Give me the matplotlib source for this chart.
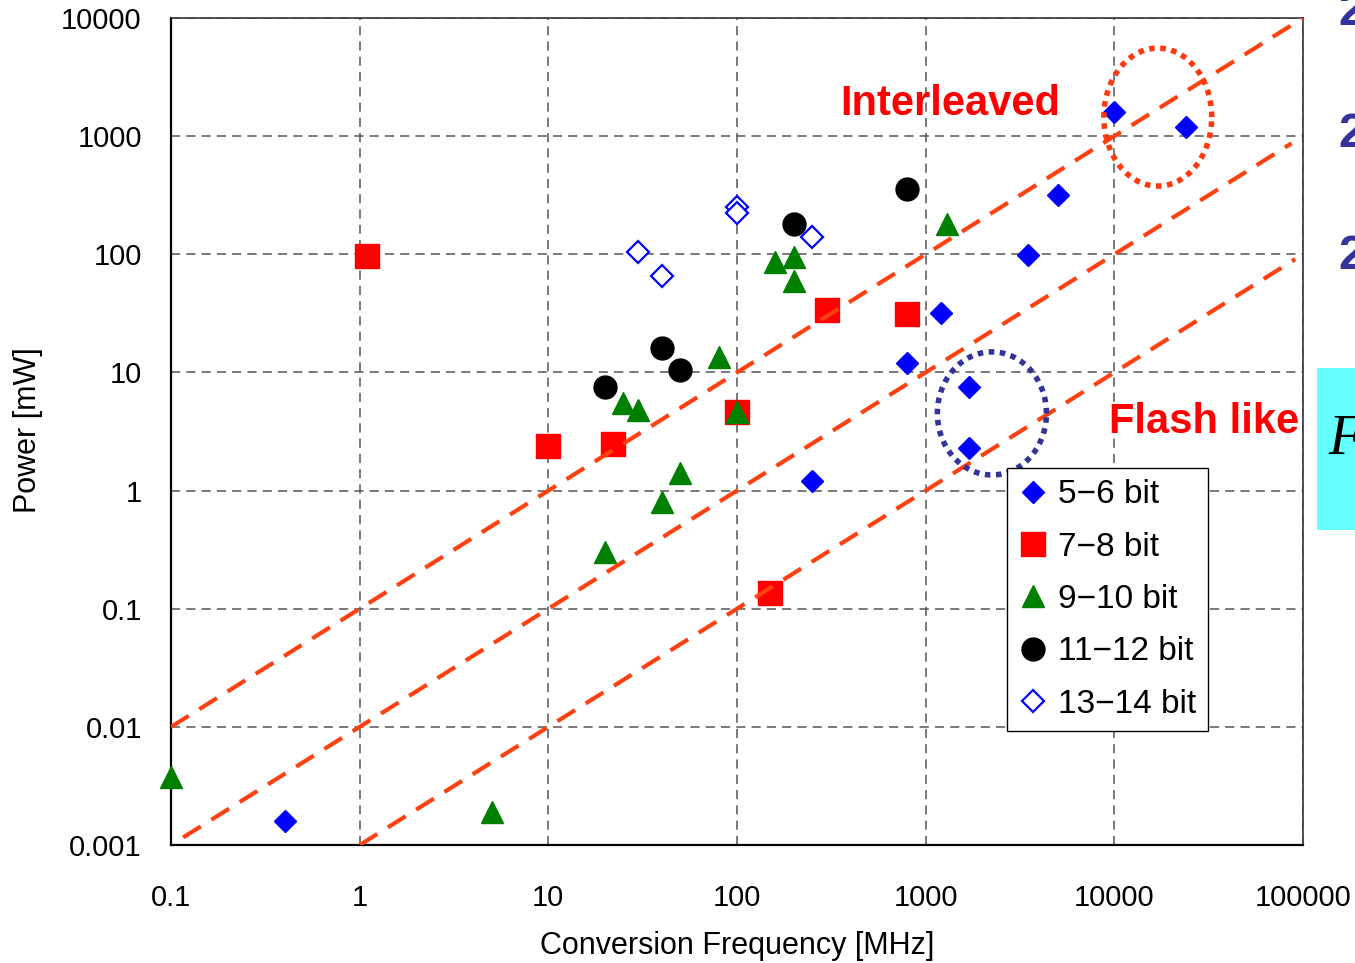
import matplotlib
matplotlib.use('Agg')
import matplotlib.pyplot as plt
import numpy as np
from matplotlib.patches import Rectangle

# ---- data ----
bit_labels = ['5\u22126 bit', '7\u22128 bit', '9\u221210 bit', '11\u221212 bit', '13\u221214 bit']

f_56 = [0.4, 250, 800, 1200, 1700, 1700, 3500, 5000, 10000, 24000]
p_56 = [0.0016, 1.2, 12, 32, 7.6, 2.3, 98, 320, 1600, 1200]

f_78 = [1.1, 10, 22, 100, 150, 300, 800]
p_78 = [97, 2.4, 2.5, 4.6, 0.135, 34, 31]

f_910 = [0.1, 5, 20, 25, 30, 40, 50, 80, 100, 160, 200, 200, 1300]
p_910 = [0.0038, 0.0019, 0.3, 5.5, 4.8, 0.8, 1.4, 13.5, 4.6, 86, 95, 60, 180]

f_1112 = [20, 40, 50, 200, 800]
p_1112 = [7.6, 16, 10.5, 180, 360]

f_1314 = [30, 40, 100, 100, 250]
p_1314 = [105, 65, 250, 225, 140]

# reference lines P = k * f
line_k = [0.1, 0.01, 0.001]
line_f_start = [0.1, 0.116, 1.0]
line_f_end = [100000, 87000, 91000]

# circled groups: centre (f, P) and half-axes in decades
circle_centres = [(17000, 1450), (2245, 4.5)]
circle_radii = [(0.286, 0.584), (0.289, 0.521)]
circle_colors = ['#FF3A10', '#333399']

x_ticks = [0.1, 1, 10, 100, 1000, 10000, 100000]
x_tick_labels = ['0.1', '1', '10', '100', '1000', '10000', '100000']
y_ticks = [0.001, 0.01, 0.1, 1, 10, 100, 1000, 10000]
y_tick_labels = ['0.001', '0.01', '0.1', '1', '10', '100', '1000', '10000']

plt.rcParams['font.family'] = ['Liberation Sans', 'DejaVu Sans']

fig = plt.figure(figsize=(13.55, 9.63), dpi=100)
ax = fig.add_axes([0.1262, 0.1225, 0.8354, 0.8588])
ax.set_xscale('log')
ax.set_yscale('log')
ax.set_xlim(0.1, 100000)
ax.set_ylim(0.001, 10000)

# markers
ax.plot(f_56, p_56, 'D', color='#0000FF', ms=11.7, mec='#0000FF', ls='none',
        label=bit_labels[0], zorder=3, clip_on=False)
ax.plot(f_78, p_78, 's', color='#FF0000', ms=17, mec='#FF0000', ls='none',
        label=bit_labels[1], zorder=3, clip_on=False)
ax.plot(f_910, p_910, '^', color='#008000', ms=16.5, mec='#008000', ls='none',
        label=bit_labels[2], zorder=3, clip_on=False)
ax.plot(f_1112, p_1112, 'o', color='black', ms=16.5, ls='none',
        label=bit_labels[3], zorder=3, clip_on=False)
ax.plot(f_1314, p_1314, 'D', mfc='white', mec='#0000FF', mew=1.6, ms=11.0, ls='none',
        label=bit_labels[4], zorder=3, clip_on=False)

# dashed FoM lines
for k, f0, f1 in zip(line_k, line_f_start, line_f_end):
    ff = np.array([f0, f1])
    ax.plot(ff, k * ff, color='#FF4010', lw=3.0, ls=(0, (5, 3)), zorder=4)

# dotted ellipses drawn in log space
t = np.linspace(0, 2 * np.pi, 200)
for (cf, cp), (rx, ry), col in zip(circle_centres, circle_radii, circle_colors):
    ex = 10 ** (np.log10(cf) + rx * np.cos(t))
    ey = 10 ** (np.log10(cp) + ry * np.sin(t))
    ax.plot(ex, ey, color=col, lw=4.0, ls=(0, (1, 1)), zorder=5)

# grid, ticks, spines
ax.grid(True, which='major', color='#555555', ls=(0, (6, 4)), lw=1.1)
ax.minorticks_off()
ax.set_xticks(x_ticks)
ax.set_xticklabels(x_tick_labels)
ax.set_yticks(y_ticks)
ax.set_yticklabels(y_tick_labels)
ax.tick_params(axis='both', length=0, labelsize=21)
ax.tick_params(axis='x', pad=28)
ax.tick_params(axis='y', pad=21)
for s in ['left', 'bottom']:
    ax.spines[s].set_color('black')
    ax.spines[s].set_linewidth(1.6)
for s in ['top', 'right']:
    ax.spines[s].set_color('#333333')
    ax.spines[s].set_linewidth(1.2)

ax.set_xlabel('Conversion Frequency [MHz]', fontsize=22, va='center')
ax.set_ylabel('Power [mW]', fontsize=22, va='center')
ax.xaxis.set_label_coords(0.5, -0.122)
ax.yaxis.set_label_coords(-0.1263, 0.5018)

# annotations
ax.text(0.688, 0.896, 'Interleaved', transform=ax.transAxes, color='#FF0000',
        fontsize=30, fontweight='bold', ha='center', va='center', zorder=6)
ax.text(0.9125, 0.5115, 'Flash like', transform=ax.transAxes, color='#FF0000',
        fontsize=30, fontweight='bold', ha='center', va='center', zorder=6)

leg = ax.legend(loc='upper left', bbox_to_anchor=(0.7385, 0.4559), fontsize=24,
                frameon=True, fancybox=False, framealpha=1, edgecolor='black',
                borderpad=0.34, borderaxespad=0, handlelength=0.9,
                handletextpad=0.3, labelspacing=0.64, numpoints=1)
leg.get_frame().set_linewidth(1.0)
leg.set_zorder(7)

# slide leftovers at the right edge
for yy in [0.9875, 0.860, 0.734]:
    fig.text(0.9875, yy, '2', color='#333399', fontsize=35, fontweight='bold',
             ha='left', va='center')
fig.patches.append(Rectangle((0.972, 0.4496), 0.03, 0.1683, transform=fig.transFigure,
                             facecolor='#66FFFF', edgecolor='none', zorder=0))
fig.text(0.980, 0.543, 'F', color='black', fontsize=40, style='italic',
         family=['Liberation Serif', 'DejaVu Serif'], ha='left', va='center')

fig.savefig('out.png', dpi=100)
